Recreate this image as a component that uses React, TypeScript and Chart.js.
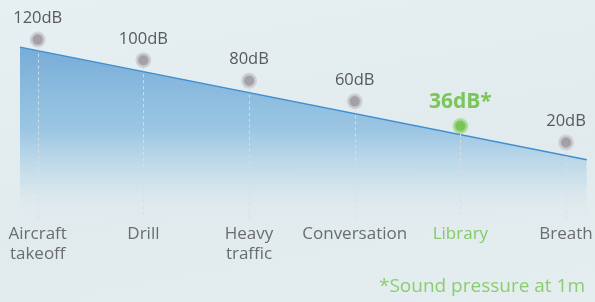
import React, { useEffect, useRef } from "react";
import { Chart, registerables } from "chart.js";

Chart.register(...registerables);

// ---- data ----
const categories: (string | string[])[] = [
  ["Aircraft", "takeoff"],
  "Drill",
  ["Heavy", "traffic"],
  "Conversation",
  "Library",
  "Breath",
];
const dbValues = [120, 100, 80, 60, 36, 20];
const highlightIndex = 4;
const trendX = [-0.168, 5.196];
const trendY = [112.7, 3.3];
const footnote = "*Sound pressure at 1m";

const FONT = "'Open Sans', Lato, sans-serif";
const GRAY_TEXT = "#6a6d70";
const GREEN = "#7cc55a";

export default function App() {
  const ref = useRef<HTMLCanvasElement | null>(null);

  useEffect(() => {
    const canvas = ref.current;
    if (!canvas) return;

    const decor = {
      id: "decor",
      afterDatasetsDraw(chart: any) {
        const c = chart.ctx;
        const area = chart.chartArea;
        const meta = chart.getDatasetMeta(1);
        c.save();
        // dashed drop lines
        meta.data.forEach((pt: any) => {
          c.beginPath();
          c.setLineDash([3, 3]);
          c.lineWidth = 1;
          c.strokeStyle = "rgba(214,222,228,0.95)";
          c.moveTo(Math.round(pt.x) + 0.5, pt.y + 8);
          c.lineTo(Math.round(pt.x) + 0.5, area.bottom + 2);
          c.stroke();
        });
        c.setLineDash([]);
        // value labels
        meta.data.forEach((pt: any, i: number) => {
          c.textAlign = "center";
          c.textBaseline = "middle";
          if (i === highlightIndex) {
            c.fillStyle = GREEN;
            c.font = `bold 21px ${FONT}`;
            c.fillText(`${dbValues[i]}dB*`, pt.x, pt.y - 24);
          } else {
            c.fillStyle = "#58595c";
            c.font = `16.5px ${FONT}`;
            c.fillText(`${dbValues[i]}dB`, pt.x, pt.y - 21);
          }
        });
        c.restore();
      },
      afterDraw(chart: any) {
        const c = chart.ctx;
        c.save();
        c.fillStyle = "#8ccd70";
        c.font = `19px ${FONT}`;
        c.textAlign = "right";
        c.textBaseline = "middle";
        c.fillText(footnote, 585, 287);
        c.restore();
      },
    };

    const chart = new Chart(canvas, {
      type: "line",
      data: {
        datasets: [
          {
            data: trendX.map((x, i) => ({ x, y: trendY[i] })),
            borderColor: "#3f8fd3",
            borderWidth: 1.5,
            pointRadius: 0,
            fill: "start",
            backgroundColor: (ctx: any) => {
              const { chart } = ctx;
              const area = chart.chartArea;
              if (!area) return "rgba(120,175,218,0.8)";
              const g = chart.ctx.createLinearGradient(0, 45, 0, area.bottom);
              g.addColorStop(0, "rgba(118,172,216,1)");
              g.addColorStop(0.5, "rgba(152,196,226,0.95)");
              g.addColorStop(0.8, "rgba(198,222,235,0.7)");
              g.addColorStop(1, "rgba(227,236,239,0)");
              return g;
            },
          },
          {
            data: dbValues.map((v, i) => ({ x: i, y: v })),
            showLine: false,
            pointRadius: 6.5,
            pointBorderWidth: 3,
            pointBackgroundColor: dbValues.map((_, i) =>
              i === highlightIndex ? "#78c456" : "#a3a1a7"
            ),
            pointBorderColor: dbValues.map((_, i) =>
              i === highlightIndex ? "rgba(170,220,150,0.75)" : "rgba(205,205,210,0.8)"
            ),
          },
        ],
      },
      options: {
        animation: false,
        responsive: false,
        layout: { autoPadding: false, padding: { top: 0, left: 0, right: 0, bottom: 31 } },
        plugins: { legend: { display: false }, tooltip: { enabled: false } },
        scales: {
          x: {
            type: "linear",
            min: -0.357,
            max: 5.274,
            grid: { display: false, drawTicks: false },
            border: { display: false },
            afterBuildTicks: (axis: any) => {
              axis.ticks = categories.map((_, i) => ({ value: i }));
            },
            afterFit: (axis: any) => {
              axis.paddingLeft = 0;
              axis.paddingRight = 0;
            },
            ticks: {
              autoSkip: false,
              maxRotation: 0,
              padding: 7,
              font: { family: FONT, size: 17, lineHeight: 1.18 },
              color: (ctx: any) => (ctx.index === highlightIndex ? "#86c96a" : GRAY_TEXT),
              callback: (value: any) => categories[Math.round(Number(value))] as any,
            },
          },
          y: {
            display: false,
            min: -52.3,
            max: 158.5,
          },
        },
      },
      plugins: [decor],
    });
    return () => chart.destroy();
  }, []);

  return (
    <div
      style={{
        position: "fixed",
        left: 0,
        top: 0,
        width: 595,
        height: 302,
        background: "linear-gradient(170deg, #e6eff1 0%, #e1eaed 60%, #e4edf0 100%)",
      }}
    >
      <canvas ref={ref} width={595} height={302} />
    </div>
  );
}
